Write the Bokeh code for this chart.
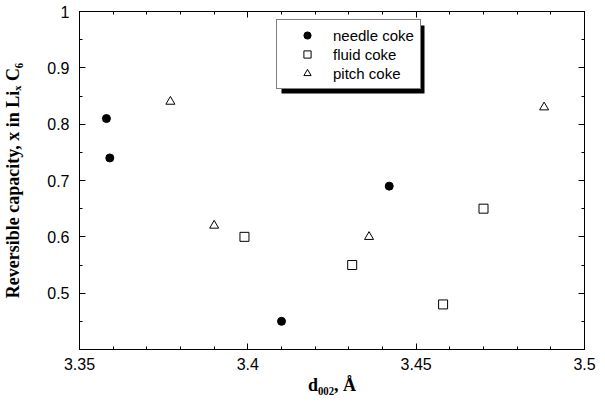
from bokeh.plotting import figure
from bokeh.models import (Range1d, LinearAxis, FixedTicker, CustomJSTickFormatter,
                          Legend, LegendItem)
from bokeh.embed import file_html
from bokeh.resources import INLINE

# ---- data ----
needle_x = [3.358, 3.359, 3.410, 3.442]
needle_y = [0.81, 0.74, 0.45, 0.69]
fluid_x = [3.399, 3.431, 3.458, 3.470]
fluid_y = [0.60, 0.55, 0.48, 0.65]
pitch_x = [3.377, 3.390, 3.436, 3.488]
pitch_y = [0.84, 0.62, 0.60, 0.83]

series_labels = ["needle coke", "fluid coke", "pitch coke"]

x_major = [3.35, 3.40, 3.45, 3.50]
x_minor = [3.36, 3.37, 3.38, 3.39, 3.41, 3.42, 3.43, 3.44, 3.46, 3.47, 3.48, 3.49]
y_major = [0.4, 0.5, 0.6, 0.7, 0.8, 0.9, 1.0]
y_minor = [0.45, 0.55, 0.65, 0.75, 0.85, 0.95]

x_title = "d\u2080\u2080\u2082, \u00c5"
y_title = "Reversible capacity, x in Li\u2093 C\u2086"

X_START, X_END = 3.35, 3.5
Y_START, Y_END = 0.4, 1.0

W, H = 597, 398
BL, BR, BT, BB = 79, 13, 11, 49

p = figure(width=W, height=H, x_range=Range1d(X_START, X_END), y_range=Range1d(Y_START, Y_END),
           output_backend="svg", toolbar_location=None,
           min_border_left=BL, min_border_right=BR, min_border_top=BT, min_border_bottom=BB)
p.xgrid.visible = False
p.ygrid.visible = False
p.outline_line_color = "black"
p.background_fill_color = "white"
p.border_fill_color = "white"

xfmt = CustomJSTickFormatter(code="return String(Math.round(tick*100)/100)")
yfmt = CustomJSTickFormatter(code="return tick < 0.45 ? '' : String(Math.round(tick*10)/10)")

def style_axis(ax):
    ax.major_tick_in = 6
    ax.major_tick_out = 0
    ax.minor_tick_in = 3
    ax.minor_tick_out = 0
    ax.axis_line_color = "black"
    ax.major_tick_line_color = "black"
    ax.minor_tick_line_color = "black"
    ax.major_label_text_font = "Liberation Sans"
    ax.major_label_text_font_size = "16px"
    ax.major_label_text_color = "black"
    ax.axis_label_text_font = "Liberation Serif"
    ax.axis_label_text_font_style = "bold"
    ax.axis_label_text_font_size = "18px"
    ax.axis_label_text_color = "black"

xa = p.xaxis[0]
xa.ticker = FixedTicker(ticks=x_major, minor_ticks=x_minor)
xa.formatter = xfmt
style_axis(xa)
xa.major_label_standoff = 8
xa.axis_label = x_title
xa.axis_label_standoff = 2

ya = p.yaxis[0]
ya.ticker = FixedTicker(ticks=y_major, minor_ticks=y_minor)
ya.formatter = yfmt
style_axis(ya)
ya.major_label_standoff = 10
ya.axis_label = y_title
ya.axis_label_standoff = 21

for loc, ticks, minors in (("above", x_major, x_minor), ("right", y_major, y_minor)):
    ax = LinearAxis(ticker=FixedTicker(ticks=ticks, minor_ticks=minors),
                    formatter=CustomJSTickFormatter(code="return ''"))
    style_axis(ax)
    ax.major_label_text_font_size = "0px"
    ax.major_label_standoff = 0
    p.add_layout(ax, loc)

# legend geometry (screen px, relative to frame bottom-left)
LEG_X, LEG_Y = 197, 260
PAD, GW, GH, SP, STAND = 6, 48, 18, 1, 2
LEG_W = 2 * PAD + GW + STAND + 81
LEG_H = 2 * PAD + 3 * GH + 2 * SP
FW = W - BL - BR
FH = H - BT - BB
dx = (X_END - X_START) / FW
dy = (Y_END - Y_START) / FH
SHX, SHY = 5, 4

# drop shadow of the legend box (drawn below the legend)
p.quad(left=[X_START + (LEG_X + SHX) * dx], right=[X_START + (LEG_X + LEG_W + SHX) * dx],
       bottom=[Y_START + (LEG_Y - SHY) * dy], top=[Y_START + (LEG_Y + LEG_H - SHY) * dy],
       fill_color="black", line_color=None)

r1 = p.scatter(needle_x, needle_y, marker="circle", size=8, fill_color="black", line_color="black")
r2 = p.scatter(fluid_x, fluid_y, marker="square", size=9, fill_color="white",
               line_color="black", line_width=1)
r3 = p.scatter(pitch_x, pitch_y, marker="triangle", size=9, fill_color="white",
               line_color="black", line_width=1)

legend = Legend(items=[LegendItem(label=series_labels[0], renderers=[r1]),
                       LegendItem(label=series_labels[1], renderers=[r2]),
                       LegendItem(label=series_labels[2], renderers=[r3])],
                location=(LEG_X, LEG_Y), padding=PAD, spacing=SP,
                glyph_width=GW, glyph_height=GH, label_height=GH, label_standoff=STAND,
                label_text_font="Liberation Sans", label_text_font_size="15px",
                label_text_color="black",
                border_line_color="black", border_line_width=1.5,
                background_fill_color="white", background_fill_alpha=1.0, margin=0)
p.add_layout(legend, "center")

open("out.html", "w").write(file_html(p, INLINE))
